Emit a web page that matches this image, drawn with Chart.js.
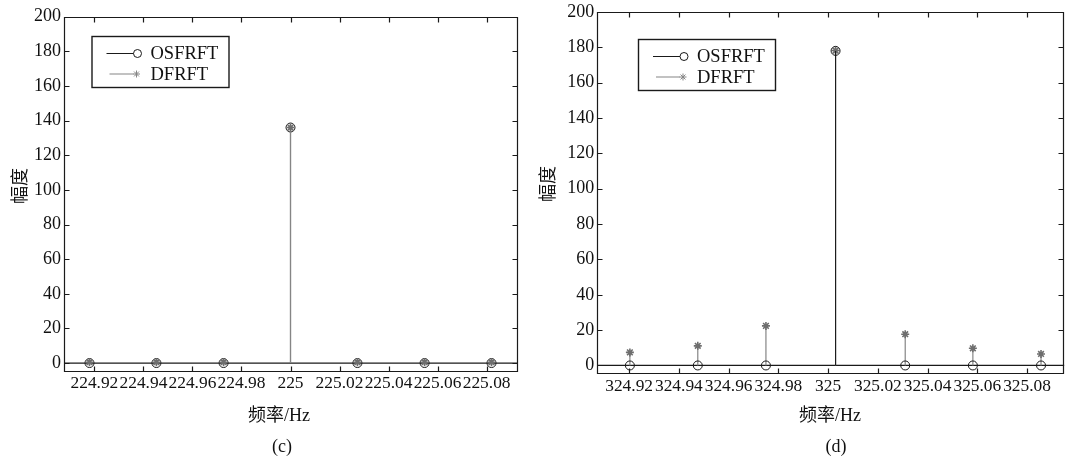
<!DOCTYPE html>
<html>
<head>
<meta charset="utf-8">
<script src="https://cdn.jsdelivr.net/npm/chart.js@4/dist/chart.umd.min.js"></script>
<style>
  html, body { margin: 0; padding: 0; background: #fff; }
  body { width: 1070px; height: 458px; position: relative; overflow: hidden; }
  canvas { position: absolute; top: 0; }
  .t { position: absolute; font-family: "Liberation Serif", "Noto Sans CJK SC", serif; font-size: 18px; color: #111; white-space: nowrap; transform: translate(-50%, -50%); line-height: 1; }
  .rot { transform: translate(-50%, -50%) rotate(-90deg); }
</style>
</head>
<body>
<canvas id="cc" width="530" height="458" style="left:0px;width:530px;height:458px"></canvas>
<canvas id="cd" width="540" height="458" style="left:530px;width:540px;height:458px"></canvas>

<div class="t rot" style="left:20px;top:186px">幅度</div>
<div class="t" style="left:279px;top:415px">频率/Hz</div>
<div class="t" style="left:282px;top:446px">(c)</div>

<div class="t rot" style="left:548px;top:184px">幅度</div>
<div class="t" style="left:830px;top:415px">频率/Hz</div>
<div class="t" style="left:836px;top:446px">(d)</div>

<script>
// ---------------- data ----------------
const freqC   = [224.918, 224.9453, 224.9727, 225.0, 225.0273, 225.0547, 225.082];
const osfrftC = [0, 0, 0, 136, 0, 0, 0];
const dfrftC  = [0.5, 0.5, 0.5, 136, 0.5, 0.5, 0.5];

const freqD   = [324.9203, 324.9476, 324.975, 325.003, 325.031, 325.0582, 325.0856];
const osfrftD = [0, 0, 0, 178, 0, 0, 0];
const dfrftD  = [7.4, 11.1, 22.4, 178.2, 17.7, 9.7, 6.5];

const xTicksC = [224.92, 224.94, 224.96, 224.98, 225.00, 225.02, 225.04, 225.06, 225.08];
const xTicksD = [324.92, 324.94, 324.96, 324.98, 325.00, 325.02, 325.04, 325.06, 325.08];
const yTicks  = [0, 20, 40, 60, 80, 100, 120, 140, 160, 180, 200];

const xRangeC = [224.9076, 225.0926];
const xRangeD = [324.9072, 325.0950];
const yRange  = [-5, 200];

const seriesNames = ['OSFRFT', 'DFRFT'];

// ---------------- helpers ----------------
const FONT = '"Liberation Serif", "Times New Roman", serif';
const BLACK = '#1a1a1a';
const GRAY = '#858585';

function stemData(xs, ys) {
  const out = [];
  xs.forEach((x, i) => { out.push({x: x, y: 0}, {x: x, y: ys[i]}, {x: x, y: null}); });
  return out;
}
function pointData(xs, ys) { return xs.map((x, i) => ({x: x, y: ys[i]})); }

const framePlugin = {
  id: 'frame',
  afterDatasetsDraw(chart) {
    const {ctx, chartArea: a, scales} = chart;
    ctx.save();
    ctx.strokeStyle = BLACK;
    ctx.lineWidth = 1.2;
    const L = Math.round(a.left) + 0.5, R = Math.round(a.right) - 0.5;
    const T = Math.round(a.top) + 0.5, B = Math.round(a.bottom) - 0.5;
    ctx.beginPath();
    ctx.rect(L, T, R - L, B - T);
    const tl = 5;
    scales.x.ticks.forEach(t => {
      const px = Math.round(scales.x.getPixelForValue(t.value)) + 0.5;
      ctx.moveTo(px, B); ctx.lineTo(px, B - tl);
      ctx.moveTo(px, T); ctx.lineTo(px, T + tl);
    });
    scales.y.ticks.forEach(t => {
      const py = Math.round(scales.y.getPixelForValue(t.value)) + 0.5;
      ctx.moveTo(L, py); ctx.lineTo(L + tl, py);
      ctx.moveTo(R, py); ctx.lineTo(R - tl, py);
    });
    ctx.stroke();
    ctx.restore();
  }
};

const legendPlugin = {
  id: 'mlegend',
  afterDraw(chart, args, opts) {
    const {ctx} = chart;
    const x = opts.x, y = opts.y, w = 137, h = 51;
    ctx.save();
    ctx.fillStyle = '#fff';
    ctx.fillRect(x, y, w, h);
    ctx.strokeStyle = BLACK;
    ctx.lineWidth = 1.4;
    ctx.strokeRect(x + 0.5, y + 0.5, w, h);
    const r1 = y + 17.5, r2 = y + 38;
    ctx.lineWidth = 1;
    ctx.strokeStyle = BLACK;
    ctx.beginPath(); ctx.moveTo(x + 15, r1); ctx.lineTo(x + 42, r1); ctx.stroke();
    ctx.beginPath(); ctx.arc(x + 46, r1, 4, 0, Math.PI * 2); ctx.stroke();
    ctx.strokeStyle = GRAY;
    ctx.beginPath(); ctx.moveTo(x + 18, r2); ctx.lineTo(x + 42, r2); ctx.stroke();
    const sx = x + 45, sy = r2, s = 3.5;
    ctx.beginPath();
    ctx.moveTo(sx - s, sy); ctx.lineTo(sx + s, sy);
    ctx.moveTo(sx, sy - s); ctx.lineTo(sx, sy + s);
    ctx.moveTo(sx - s * 0.7, sy - s * 0.7); ctx.lineTo(sx + s * 0.7, sy + s * 0.7);
    ctx.moveTo(sx - s * 0.7, sy + s * 0.7); ctx.lineTo(sx + s * 0.7, sy - s * 0.7);
    ctx.stroke();
    ctx.fillStyle = '#111';
    ctx.font = '18.5px ' + FONT;
    ctx.textBaseline = 'middle';
    ctx.textAlign = 'left';
    ctx.fillText(seriesNames[0], x + 59, r1 + 1);
    ctx.fillText(seriesNames[1], x + 59, r2 + 1);
    ctx.restore();
  }
};

function fmt(v) { return String(Number(v.toFixed(2))); }

function makeChart(id, xs, osf, dfr, xTicks, xRange, pad, legendPos, osfOnTop) {
  const osStem = { type: 'line', label: seriesNames[0], data: stemData(xs, osf), borderColor: BLACK, borderWidth: 1.1, pointRadius: 0, spanGaps: false, tension: 0 };
  const osPts  = { type: 'line', label: seriesNames[0] + ' marker', data: pointData(xs, osf), showLine: false, pointStyle: 'circle', pointRadius: 4.5, pointBorderColor: BLACK, pointBackgroundColor: 'rgba(0,0,0,0)', pointBorderWidth: 1 };
  const dfStem = { type: 'line', label: seriesNames[1], data: stemData(xs, dfr), borderColor: GRAY, borderWidth: 1.2, pointRadius: 0, spanGaps: false, tension: 0 };
  const dfPts  = { type: 'line', label: seriesNames[1] + ' marker', data: pointData(xs, dfr), showLine: false, pointStyle: 'star', pointRadius: 4, pointBorderColor: '#6e6e6e', pointBackgroundColor: '#6e6e6e', pointBorderWidth: 1.6 };
  const base   = { type: 'line', label: 'baseline', data: [{x: xRange[0], y: 0}, {x: xRange[1], y: 0}], borderColor: BLACK, borderWidth: 1.3, pointRadius: 0 };
  const datasets = osfOnTop ? [osPts, osStem, dfPts, dfStem, base] : [dfPts, dfStem, osPts, osStem, base];
  return new Chart(document.getElementById(id), {
    type: 'line',
    data: { datasets },
    options: {
      responsive: false,
      animation: false,
      devicePixelRatio: 1,
      events: [],
      layout: { padding: pad },
      plugins: { legend: { display: false }, tooltip: { enabled: false }, mlegend: legendPos },
      scales: {
        x: {
          type: 'linear', min: xRange[0], max: xRange[1],
          afterBuildTicks: s => { s.ticks = xTicks.map(v => ({value: v})); },
          afterFit: s => { s.height = 30; },
          grid: { display: false, drawTicks: false },
          border: { display: false },
          ticks: { autoSkip: false, maxRotation: 0, minRotation: 0, padding: 3, color: '#111', font: { family: FONT, size: 17.4, lineHeight: 1 }, callback: v => fmt(v) }
        },
        y: {
          type: 'linear', min: yRange[0], max: yRange[1],
          afterBuildTicks: s => { s.ticks = yTicks.map(v => ({value: v})); },
          afterFit: s => { s.width = pad.yw; },
          grid: { display: false, drawTicks: false },
          border: { display: false },
          ticks: { autoSkip: false, padding: 3, color: '#111', font: { family: FONT, size: 18, lineHeight: 1 }, callback: v => String(v) }
        }
      }
    },
    plugins: [framePlugin, legendPlugin]
  });
}

makeChart('cc', freqC, osfrftC, dfrftC, xTicksC, xRangeC,
  { left: 0, top: 16.7, right: 12.5, bottom: 458 - 371.7 - 30, yw: 64 },
  { x: 91.5, y: 36 }, false);

makeChart('cd', freqD, osfrftD, dfrftD, xTicksD, xRangeD,
  { left: 0, top: 10.5, right: 2.5, bottom: 458 - 374.3 - 30, yw: 67.3 },
  { x: 108, y: 39 }, true);
</script>
</body>
</html>
